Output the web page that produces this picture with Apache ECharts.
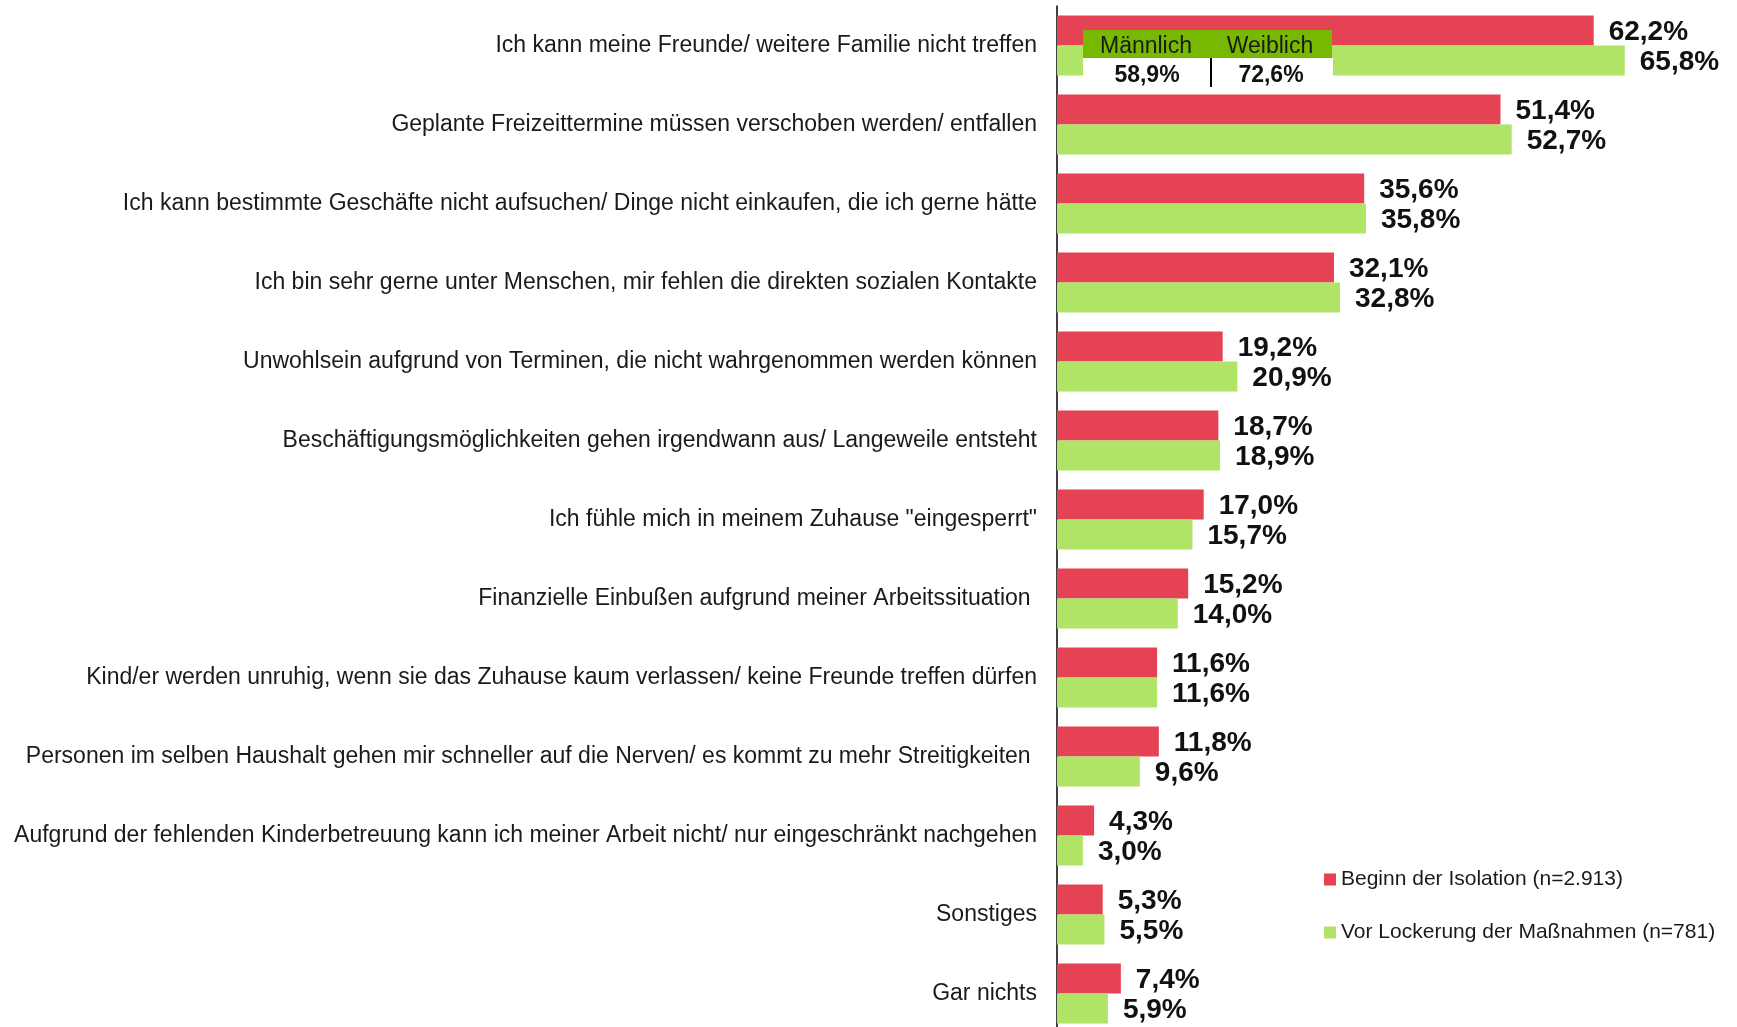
<!DOCTYPE html>
<html>
<head>
<meta charset="utf-8">
<script src="https://cdn.jsdelivr.net/npm/echarts@6/dist/echarts.min.js"></script>
<style>
html,body{margin:0;padding:0;background:#fff;}
#chart{width:1737px;height:1027px;}
</style>
</head>
<body>
<div id="chart"></div>
<script>
const categories = [
  "Ich kann meine Freunde/ weitere Familie nicht treffen",
  "Geplante Freizeittermine müssen verschoben werden/ entfallen",
  "Ich kann bestimmte Geschäfte nicht aufsuchen/ Dinge nicht einkaufen, die ich gerne hätte",
  "Ich bin sehr gerne unter Menschen, mir fehlen die direkten sozialen Kontakte",
  "Unwohlsein aufgrund von Terminen, die nicht wahrgenommen werden können",
  "Beschäftigungsmöglichkeiten gehen irgendwann aus/ Langeweile entsteht",
  "Ich fühle mich in meinem Zuhause \"eingesperrt\"",
  "Finanzielle Einbußen aufgrund meiner Arbeitssituation ",
  "Kind/er werden unruhig, wenn sie das Zuhause kaum verlassen/ keine Freunde treffen dürfen",
  "Personen im selben Haushalt gehen mir schneller auf die Nerven/ es kommt zu mehr Streitigkeiten ",
  "Aufgrund der fehlenden Kinderbetreuung kann ich meiner Arbeit nicht/ nur eingeschränkt nachgehen",
  "Sonstiges",
  "Gar nichts"
];
const seriesNames = ["Beginn der Isolation (n=2.913)", "Vor Lockerung der Maßnahmen (n=781)"];
const beginnValues = [62.2, 51.4, 35.6, 32.1, 19.2, 18.7, 17.0, 15.2, 11.6, 11.8, 4.3, 5.3, 7.4];
const lockerungValues = [65.8, 52.7, 35.8, 32.8, 20.9, 18.9, 15.7, 14.0, 11.6, 9.6, 3.0, 5.5, 5.9];
const genderHeaders = ["Männlich", "Weiblich"];
const genderValues = ["58,9%", "72,6%"];

const FONT = "'Liberation Sans', Arial, sans-serif";
const RED = "#E54353";
const GREEN = "#B0E466";
const HEADER_GREEN = "#77B800";

const fmt = v => v.toFixed(1).replace('.', ',') + '%';

const chart = echarts.init(document.getElementById('chart'), null, {renderer: 'canvas'});
const labelCfg = {
  show: true,
  position: 'right',
  distance: 15,
  offset: [0, 2],
  fontFamily: FONT,
  fontWeight: 'bold',
  fontSize: 28,
  color: '#111',
  formatter: p => fmt(p.value)
};
chart.setOption({
  animation: false,
  backgroundColor: '#fff',
  textStyle: {fontFamily: FONT},
  grid: {left: 1057, top: 6, width: 604, height: 1027, containLabel: false, outerBoundsMode: 'none'},
  xAxis: {
    type: 'value', min: 0, max: 70,
    show: false
  },
  yAxis: {
    type: 'category',
    data: categories,
    inverse: true,
    axisLine: {show: true, lineStyle: {color: '#000', width: 1.5}},
    axisTick: {show: false},
    axisLabel: {fontFamily: FONT, fontSize: 23, color: '#1a1a1a', margin: 20, padding: [2, 0, 0, 0]}
  },
  legend: {
    orient: 'vertical',
    left: 1319,
    top: 864,
    itemWidth: 12,
    itemHeight: 12,
    itemGap: 32,
    itemTextGap: 4,
    icon: 'rect',
    textStyle: {fontFamily: FONT, fontSize: 21, color: '#1a1a1a', lineHeight: 21},
    data: seriesNames
  },
  series: [
    {name: seriesNames[0], type: 'bar', data: beginnValues, barWidth: 30, barGap: '0%',
     itemStyle: {color: RED}, label: labelCfg},
    {name: seriesNames[1], type: 'bar', data: lockerungValues, barWidth: 30, barGap: '0%',
     itemStyle: {color: GREEN}, label: labelCfg}
  ],
  graphic: [
    {type: 'rect', shape: {x: 1083, y: 30, width: 249, height: 28}, style: {fill: HEADER_GREEN}, z: 100},
    {type: 'rect', shape: {x: 1083, y: 58, width: 250, height: 18}, style: {fill: '#fff'}, z: 100},
    {type: 'line', shape: {x1: 1211, y1: 58, x2: 1211, y2: 87}, style: {stroke: '#000', lineWidth: 2}, z: 101},
    {type: 'text', x: 1146, y: 47, style: {text: genderHeaders[0], font: "23px " + FONT, fill: '#1a1a1a', align: 'center', verticalAlign: 'middle'}, z: 101},
    {type: 'text', x: 1270, y: 47, style: {text: genderHeaders[1], font: "23px " + FONT, fill: '#1a1a1a', align: 'center', verticalAlign: 'middle'}, z: 101},
    {type: 'text', x: 1147, y: 76, style: {text: genderValues[0], font: "bold 23px " + FONT, fill: '#111', align: 'center', verticalAlign: 'middle'}, z: 101},
    {type: 'text', x: 1271, y: 76, style: {text: genderValues[1], font: "bold 23px " + FONT, fill: '#111', align: 'center', verticalAlign: 'middle'}, z: 101}
  ]
});
</script>
</body>
</html>
